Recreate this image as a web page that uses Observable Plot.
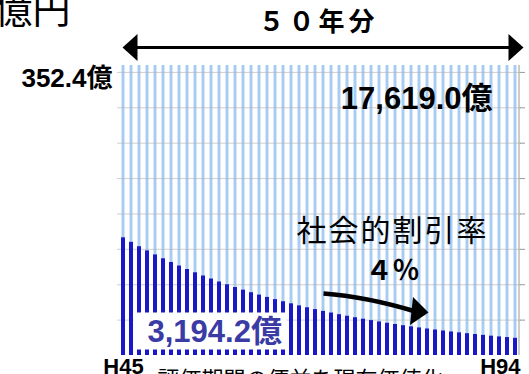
<!DOCTYPE html>
<html><head><meta charset="utf-8">
<script src="https://cdn.jsdelivr.net/npm/d3@7"></script>
<script src="https://cdn.jsdelivr.net/npm/@observablehq/plot@0.6"></script>
<style>html,body{margin:0;padding:0;background:#fff;overflow:hidden}</style>
</head><body><div id="chart"></div>
<script>
// ---- data ----
const years = ["H45","H46","H47","H48","H49","H50","H51","H52","H53","H54",
  "H55","H56","H57","H58","H59","H60","H61","H62","H63","H64",
  "H65","H66","H67","H68","H69","H70","H71","H72","H73","H74",
  "H75","H76","H77","H78","H79","H80","H81","H82","H83","H84",
  "H85","H86","H87","H88","H89","H90","H91","H92","H93","H94"];
const annualValue = [352.4,352.4,352.4,352.4,352.4,352.4,352.4,352.4,352.4,352.4,
  352.4,352.4,352.4,352.4,352.4,352.4,352.4,352.4,352.4,352.4,
  352.4,352.4,352.4,352.4,352.4,352.4,352.4,352.4,352.4,352.4,
  352.4,352.4,352.4,352.4,352.4,352.4,352.4,352.4,352.4,352.4,
  352.4,352.4,352.4,352.4,352.4,352.4,352.4,352.4,352.4,352.4];
const presentValue = [143.0,137.5,132.2,127.1,122.2,117.5,113.0,108.7,104.5,100.5,
  96.6,92.9,89.3,85.9,82.6,79.4,76.3,73.4,70.6,67.9,
  65.3,62.8,60.3,58.0,55.8,53.6,51.6,49.6,47.7,45.9,
  44.1,42.4,40.8,39.2,37.7,36.2,34.8,33.5,32.2,31.0,
  29.8,28.6,27.5,26.5,25.5,24.5,23.5,22.6,21.8,20.9];
const gridTicks = [43, 86, 129, 172, 215, 258, 301, 344];
const edgeLabels = ["H45", "H94"];
const unitLabel = "億円";
const spanLabel = "５０年分";
const annualLabel = "352.4億";
const totalLabel = "17,619.0億";
const presentLabel = "3,194.2億";
const rateTitle = "社会的割引率";
const rateLabel = "４％";
const footLabel = "評価期間の便益を現在価値化";

const rows = years.map((year, i) => ({year, total: annualValue[i], present: presentValue[i]}));

// ---- layout ----
const W = 529, H = 374, ML = 117, MR = 8, MT = 65, MB = 19;
const at = (px, py) => ({frameAnchor: "top-left", dx: px - ML, dy: py - MT});
const latin = "'Liberation Sans', Arial, 'Noto Sans CJK JP', sans-serif";
const cjk = "'Noto Sans CJK JP', sans-serif";

const headLeft = {draw(c) {c.moveTo(0, 0); c.lineTo(15, -13.5); c.lineTo(15, 13.5); c.closePath();}};
const headRight = {draw(c) {c.moveTo(0, 0); c.lineTo(-15, -13.5); c.lineTo(-15, 13.5); c.closePath();}};
const headCurve = {draw(c) {c.moveTo(0, 0); c.lineTo(-15.5, -15.5); c.lineTo(-18.5, 12.5); c.closePath();}};
const shaftCurve = {draw(c) {c.moveTo(-105, -19); c.quadraticCurveTo(-63, -16, -13, -1);}};
const whiteBox = {draw(c) {c.rect(-76.5, -18.5, 153, 37);}};

const chart = Plot.plot({
  width: W, height: H,
  marginLeft: ML, marginRight: MR, marginTop: MT, marginBottom: MB,
  x: {type: "band", domain: years, padding: 0.5, axis: null},
  y: {domain: [0, 352.4], axis: null},
  marks: [
    Plot.barY(rows, {x: "year", y: "total", fill: "#a9cdf2", insetLeft: 0.5, insetRight: 0.5}),
    Plot.ruleY(gridTicks, {stroke: "#b0b0b0", strokeOpacity: 0.6}),
    Plot.barY(rows, {x: "year", y: "present", fill: "#1818c8"}),
    Plot.ruleY(gridTicks, {stroke: "#999", insetLeft: 403, insetRight: -4}),
    Plot.ruleX([years[years.length - 1]], {y1: 0, y2: 352.4, dx: 3.5, stroke: "#999"}),
    // top double arrow
    Plot.ruleY([352.4], {dy: -18, insetLeft: 12, insetRight: 8, stroke: "black", strokeWidth: 3}),
    Plot.dot([0], {...at(122, 47), symbol: headLeft, fill: "black", stroke: "none", r: 10}),
    Plot.dot([0], {...at(523, 47), symbol: headRight, fill: "black", stroke: "none", r: 10}),
    // curved arrow
    Plot.dot([0], {...at(428, 312), symbol: shaftCurve, fill: "none", stroke: "black", strokeWidth: 4.5, r: 10}),
    Plot.dot([0], {...at(428, 312), symbol: headCurve, fill: "black", stroke: "none", r: 10}),
    // white label box
    Plot.dot([0], {...at(209.5, 330.5), symbol: whiteBox, fill: "white", stroke: "none", r: 10}),
    // texts
    Plot.text([unitLabel], {...at(70, 10), lineAnchor: "middle", textAnchor: "end", fontSize: 38, fontFamily: cjk, fill: "black"}),
    Plot.text([spanLabel], {...at(258, 22), lineAnchor: "middle", textAnchor: "start", fontSize: 26, fontWeight: "bold", fontFamily: cjk, fill: "black"}),
    Plot.text([annualLabel], {...at(112, 78), lineAnchor: "middle", textAnchor: "end", fontSize: 26, fontWeight: "bold", fontFamily: latin, fill: "black"}),
    Plot.text([totalLabel], {...at(492, 99), lineAnchor: "middle", textAnchor: "end", fontSize: 31, fontWeight: "bold", fontFamily: latin, fill: "black"}),
    Plot.text([rateTitle], {...at(296, 231), lineAnchor: "middle", textAnchor: "start", fontSize: 30, fontFamily: cjk, fill: "black"}),
    Plot.text([rateLabel], {...at(392, 271), lineAnchor: "middle", textAnchor: "middle", fontSize: 27, fontWeight: "bold", fontFamily: cjk, fill: "black"}),
    Plot.text([presentLabel], {...at(147, 332), lineAnchor: "middle", textAnchor: "start", fontSize: 31, fontWeight: "bold", fontFamily: latin, fill: "#3b3ba6"}),
    Plot.text([edgeLabels[0]], {...at(123, 358), lineAnchor: "top", textAnchor: "middle", fontSize: 22, fontWeight: "bold", fontFamily: latin, fill: "black"}),
    Plot.text([edgeLabels[1]], {...at(520, 358), lineAnchor: "top", textAnchor: "end", fontSize: 22, fontWeight: "bold", fontFamily: latin, fill: "black"}),
    Plot.text([footLabel], {...at(300, 371), lineAnchor: "top", textAnchor: "middle", fontSize: 22, fontFamily: cjk, fill: "black"})
  ]
});
d3.select(chart).selectAll("text").filter(function() { return this.textContent === spanLabel; }).attr("letter-spacing", "4px");
d3.select(chart).selectAll("text").filter(function() { return this.textContent === rateTitle; }).attr("letter-spacing", "2px");
document.getElementById("chart").appendChild(chart);
</script>
</body></html>
